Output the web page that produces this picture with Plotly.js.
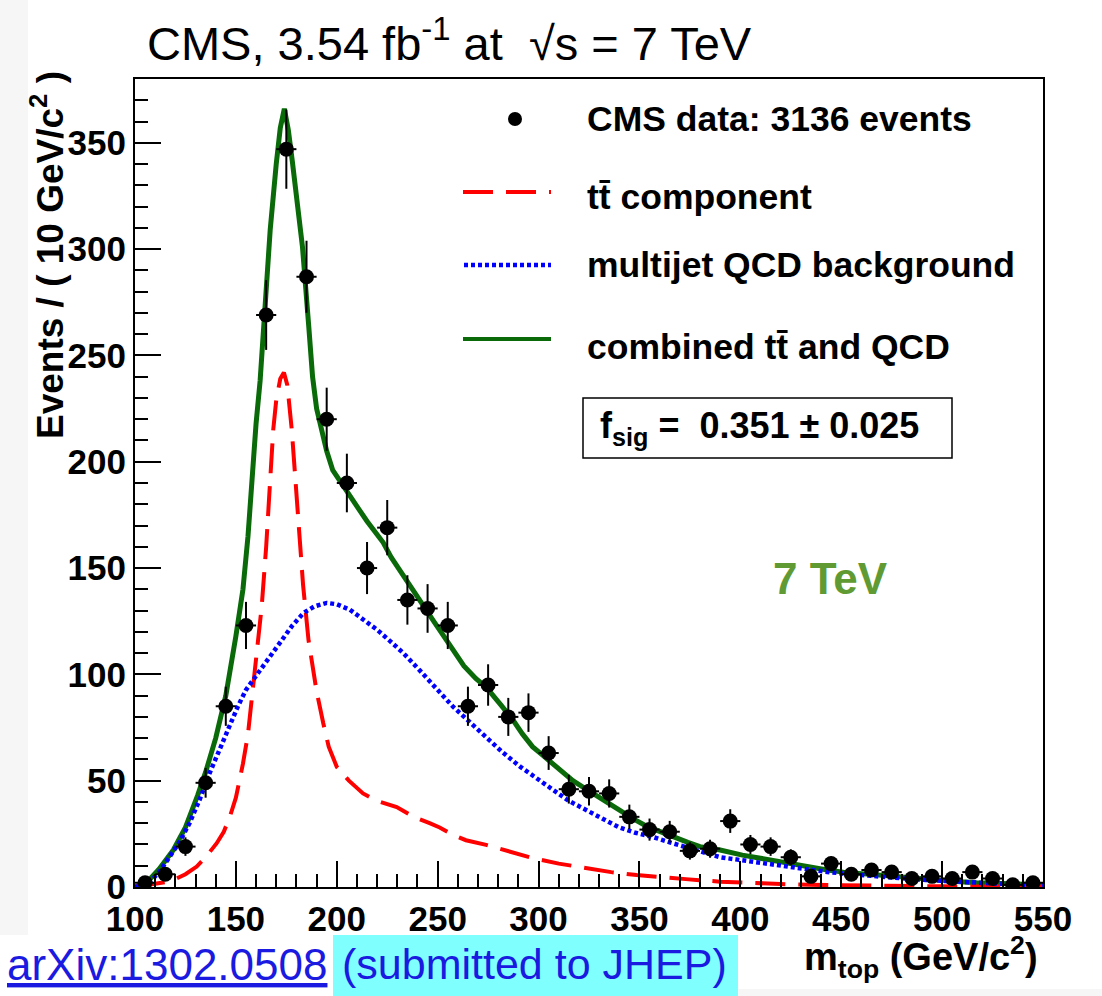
<!DOCTYPE html>
<html>
<head>
<meta charset="utf-8">
<script src="https://cdn.plot.ly/plotly-3.0.1.min.js"></script>
<style>html,body{margin:0;padding:0;background:#fff;}</style>
</head>
<body>
<div id="chart" style="width:1102px;height:996px;"></div>
<script>
// ---- data: CMS data points (bin centres, counts) ----
const binCenters = [105,115,125,135,145,155,165,175,185,195,205,215,225,235,245,255,265,275,285,295,305,315,325,335,345,355,365,375,385,395,405,415,425,435,445,455,465,475,485,495,505,515,525,535,545];
const counts     = [2,6,19,49,85,123,269,347,287,220,190,150,169,135,131,123,85,95,80,82,63,46,45,44,33,27,26,17,18,31,20,19,14,5,11,6,8,7,4,5,4,7,4,1,2];
const binHalfWidth = 5;

// ---- combined ttbar + QCD curve ----
const combX = [100,103,107,112,119,125,131,135,140,145,150,153.5,156,158,160,162,165,167,170,172,174,176,178,180,183,186,188,190,192,195,198,202,206,210,215,219,223,227,231,236,241,248,255,263,269,274,281,287,292,297,302,307,312,317,322,327,333,340,347,354,360,367,374,380,390,401,410,418,426,435,443,451,459,468,476,484,492,500,509,517,525,534,542,550];
const combY = [0,1,3.3,8.5,17.4,28,43,54,70,90,118,140,165,195,218,238,280,309,340,357,366,356,341,326,301,265,240,225,216,205,196,190,185,179,172,167,162,155,149,142,135,125,115,104,98,94,86,79,72,66,62,58,54,50,47,44,40,36,32,28.4,26,23.6,21,19,17.4,15,13.5,12,10.5,8.9,8,7,6.3,5.6,4.9,4.2,3.6,3,2.5,2,1.7,1.4,1.2,1];

// ---- multijet QCD background curve ----
const qcdX = [100,104,107,112,117,122,127,132,137,142,147,151,155,159,163.5,168,173.5,178,183.5,189,195,200,206.5,213,220,226,233,241,249,257.6,266,274,282,291,299,307,315,324,332,340,348,356.7,365,373,381,390,401,410,418,426,434,442,451,459,467,476,484,492,500,508,517,525,533,541,550];
const qcdY = [0,1,2,7,14,21,30,41,53.6,65,77,85,92.7,98,103.5,110,117.6,123,128.9,132,133.6,133,130.4,126,121,116,110,102,94,84.8,77.5,70.6,63.5,56.5,51,45.6,40.5,36,31.8,28,25.5,23.5,21,19,16.5,14,12.5,11.2,10,9,8,7.2,6.3,5.6,5,4.4,3.8,3.3,2.8,2.4,2,1.7,1.3,1.1,0.9];

// ---- ttbar component curve ----
const ttX = [100,105,110,115,119,125,130.6,135,140.5,144,147,150,153.5,156,158.5,160,162.8,165,167,168.5,170,172,173.8,175.5,177.7,180,183.3,186,188.3,190,193.3,196,200,206,213,220,229.7,238,246,251,257.6,264,274,285,297,310,324,336,348.6,360,373,390,401,420,434,460,500,550];
const ttY = [0.3,0.8,1.5,2.3,3.3,6,9.6,14,20.6,26,33,42,58,72,92.7,105,132,160,195,215,229,239,242,236,215,184,142,116,101,92,77,66,56.5,50,44,40.5,37.6,33,30,28,24.5,22,19.8,17,13.6,11,8.9,7,5.6,4.6,3.7,2.5,2,1.4,1,0.6,0.3,0.2];

// ---- axis ticks ----
const xTicks = [100,150,200,250,300,350,400,450,500,550];
const yTicks = [0,50,100,150,200,250,300,350];

// ---- text ----
const titleText = "CMS, 3.54 fb<sup>-1</sup> at  √s = 7 TeV";
const xTitle = "m<sub>top</sub> (GeV/c<sup>2</sup>)";
const yTitle = "Events / ( 10 GeV/c<sup>2</sup> )";
const legendLabels = ["CMS data: 3136 events", "tt\u0304 component", "multijet QCD background", "combined tt\u0304 and QCD"];
const fsigText = "f<sub>sig</sub> =  0.351 ± 0.025";
const energyText = "7 TeV";
const refText = "<u>arXiv:1302.0508</u>";
const noteText = "(submitted to JHEP)";

const FONT = "Liberation Sans, Arial, Helvetica, sans-serif";
const GREEN = "#0a6a0a";
const RED = "#ff0000";
const BLUE = "#0000ff";

const errY = counts.map(v => Math.sqrt(v));

const traces = [
  {x: combX, y: combY, type: 'scatter', mode: 'lines', line: {color: GREEN, width: 5}, hoverinfo: 'skip'},
  {x: ttX, y: ttY, type: 'scatter', mode: 'lines', line: {color: RED, width: 4, dash: '30px,13px'}, hoverinfo: 'skip'},
  {x: qcdX, y: qcdY, type: 'scatter', mode: 'lines', line: {color: BLUE, width: 4.5, dash: '4px,3px'}, hoverinfo: 'skip'},
  {x: binCenters, y: counts, type: 'scatter', mode: 'markers',
   marker: {color: 'black', size: 15},
   error_y: {type: 'data', array: errY, thickness: 2, width: 0, color: 'black'},
   error_x: {type: 'constant', value: binHalfWidth, thickness: 2, width: 0, color: 'black'}}
];

// pixel -> paper helpers (plot area: x 135..1043, y 79..887)
const L = 135, R = 1043, T = 79, B = 887;
const px = v => (v - L) / (R - L);
const py = v => (B - v) / (B - T);

const axisCommon = {
  ticks: 'inside', ticklen: 26, tickwidth: 2, tickcolor: 'black',
  showline: true, linecolor: 'black', linewidth: 2, mirror: true,
  showgrid: false, zeroline: false,
  tickfont: {family: FONT, size: 35, color: 'black', weight: 'bold'},
};

const layout = {
  width: 1102, height: 996,
  margin: {l: L, r: 1102 - R, t: T, b: 996 - B, pad: 0},
  paper_bgcolor: 'white', plot_bgcolor: 'white',
  showlegend: false,
  xaxis: Object.assign({}, axisCommon, {
    range: [100, 550], tickmode: 'array', tickvals: xTicks, ticktext: xTicks.map(String),
    minor: {dtick: 10, tick0: 100, ticks: 'inside', ticklen: 13, tickwidth: 2, tickcolor: 'black', showgrid: false}
  }),
  yaxis: Object.assign({}, axisCommon, {
    range: [0, 380], tickmode: 'array', tickvals: yTicks, ticktext: yTicks.map(String),
    minor: {dtick: 10, tick0: 0, ticks: 'inside', ticklen: 13, tickwidth: 2, tickcolor: 'black', showgrid: false}
  }),
  shapes: [
    // light grey border strips of the original image
    {type: 'rect', xref: 'paper', yref: 'paper', x0: px(0), x1: px(28), y0: py(935), y1: py(0), fillcolor: '#f6f6f6', line: {width: 0}, layer: 'below'},
    {type: 'rect', xref: 'paper', yref: 'paper', x0: px(738), x1: px(1102), y0: py(996), y1: py(989), fillcolor: '#f6f6f6', line: {width: 0}, layer: 'below'},
    // cyan highlight behind "(submitted to JHEP)"
    {type: 'rect', xref: 'paper', yref: 'paper', x0: px(333), x1: px(738), y0: py(996), y1: py(935), fillcolor: '#80ffff', line: {width: 0}, layer: 'below'},
    // legend: data marker
    {type: 'circle', xref: 'paper', yref: 'paper', x0: px(508), x1: px(522), y0: py(126), y1: py(112), fillcolor: 'black', line: {width: 0}},
    // legend: ttbar dashed
    {type: 'line', xref: 'paper', yref: 'paper', x0: px(463), x1: px(551), y0: py(192), y1: py(192), line: {color: RED, width: 4, dash: '30px,13px'}},
    // legend: QCD dotted
    {type: 'line', xref: 'paper', yref: 'paper', x0: px(464), x1: px(551), y0: py(265), y1: py(265), line: {color: BLUE, width: 4.5, dash: '4px,3px'}},
    // legend: combined solid
    {type: 'line', xref: 'paper', yref: 'paper', x0: px(463), x1: px(551), y0: py(339), y1: py(339), line: {color: GREEN, width: 4}},
    // f_sig box
    {type: 'rect', xref: 'paper', yref: 'paper', x0: px(583), x1: px(952), y0: py(458), y1: py(398), fillcolor: 'white', line: {color: 'black', width: 1.5}}
  ],
  annotations: [
    {text: titleText, xref: 'paper', yref: 'paper', x: px(145), y: py(40), xanchor: 'left', yanchor: 'middle', showarrow: false,
     font: {family: FONT, size: 47, color: 'black'}},
    {text: xTitle, xref: 'paper', yref: 'paper', x: px(1040), y: py(957), xanchor: 'right', yanchor: 'middle', showarrow: false,
     font: {family: FONT, size: 38, color: 'black', weight: 'bold'}},
    {text: yTitle, xref: 'paper', yref: 'paper', x: px(48), y: py(255), xanchor: 'center', yanchor: 'middle', textangle: -90, showarrow: false,
     font: {family: FONT, size: 37, color: 'black', weight: 'bold'}},
    {text: legendLabels[0], xref: 'paper', yref: 'paper', x: px(585), y: py(119), xanchor: 'left', yanchor: 'middle', showarrow: false,
     font: {family: FONT, size: 35.5, color: 'black', weight: 'bold'}},
    {text: legendLabels[1], xref: 'paper', yref: 'paper', x: px(585), y: py(197), xanchor: 'left', yanchor: 'middle', showarrow: false,
     font: {family: FONT, size: 35.5, color: 'black', weight: 'bold'}},
    {text: legendLabels[2], xref: 'paper', yref: 'paper', x: px(585), y: py(265), xanchor: 'left', yanchor: 'middle', showarrow: false,
     font: {family: FONT, size: 35.5, color: 'black', weight: 'bold'}},
    {text: legendLabels[3], xref: 'paper', yref: 'paper', x: px(585), y: py(347), xanchor: 'left', yanchor: 'middle', showarrow: false,
     font: {family: FONT, size: 35.5, color: 'black', weight: 'bold'}},
    {text: fsigText, xref: 'paper', yref: 'paper', x: px(598), y: py(428), xanchor: 'left', yanchor: 'middle', showarrow: false,
     font: {family: FONT, size: 36, color: 'black', weight: 'bold'}},
    {text: energyText, xref: 'paper', yref: 'paper', x: px(830), y: py(578), xanchor: 'center', yanchor: 'middle', showarrow: false,
     font: {family: FONT, size: 44, color: '#5f9a33', weight: 'bold'}},
    {text: refText, xref: 'paper', yref: 'paper', x: px(5), y: py(964), xanchor: 'left', yanchor: 'middle', showarrow: false,
     font: {family: FONT, size: 44, color: '#1a1ae0'}},
    {text: noteText, xref: 'paper', yref: 'paper', x: px(340), y: py(964), xanchor: 'left', yanchor: 'middle', showarrow: false,
     font: {family: FONT, size: 43, color: '#1a1ae0'}}
  ]
};

Plotly.newPlot('chart', traces, layout, {displayModeBar: false, staticPlot: true});
</script>
</body>
</html>
